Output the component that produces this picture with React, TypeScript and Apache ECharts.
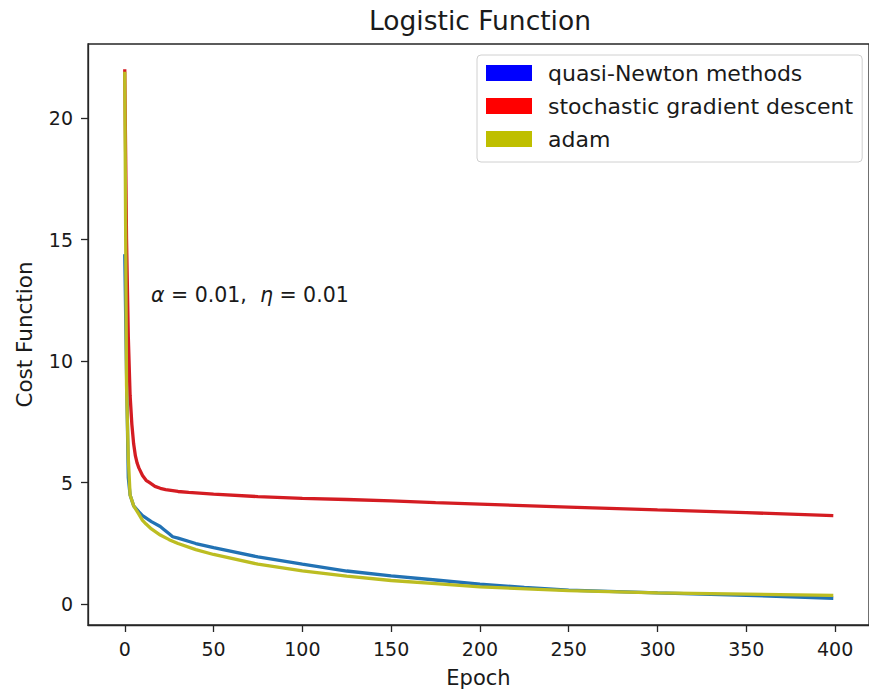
import React, { useEffect, useRef } from "react";
import * as echarts from "echarts";

// ---- data ----
const seriesNames = ["quasi-Newton methods", "stochastic gradient descent", "adam"];
const legendColors = ["#0000ff", "#ff0000", "#bfbf00"];
const lineColors = ["#2272b4", "#d41c22", "#bcbd22"];

const xTicks = [0, 50, 100, 150, 200, 250, 300, 350, 400];
const yTicks = [0, 5, 10, 15, 20];

const qnEpochs = [0, 1, 2, 3, 5, 8, 10, 15, 20, 22, 25, 27, 30, 40, 50, 75, 100, 125, 150, 175, 200, 225, 250, 300, 350, 399];
const qnValues = [14.4, 9.5, 5.2, 4.5, 4.05, 3.8, 3.65, 3.4, 3.2, 3.08, 2.9, 2.78, 2.72, 2.5, 2.33, 1.95, 1.65, 1.37, 1.17, 1.0, 0.83, 0.7, 0.58, 0.47, 0.37, 0.25];

const sgdEpochs = [0, 1, 2, 3, 4, 5, 6, 7, 8, 10, 12, 14, 17, 20, 23, 30, 36, 50, 75, 100, 125, 150, 175, 200, 250, 300, 350, 399];
const sgdValues = [22.0, 15.0, 11.0, 8.6, 7.4, 6.6, 6.1, 5.8, 5.6, 5.3, 5.1, 5.0, 4.85, 4.77, 4.72, 4.64, 4.6, 4.53, 4.43, 4.36, 4.31, 4.25, 4.18, 4.12, 4.0, 3.88, 3.77, 3.65];

const adamEpochs = [0, 1, 2, 3, 5, 8, 10, 12, 15, 20, 25, 30, 40, 50, 75, 100, 125, 150, 175, 200, 250, 300, 350, 399];
const adamValues = [21.9, 9.0, 6.0, 4.5, 4.05, 3.7, 3.45, 3.3, 3.1, 2.85, 2.66, 2.5, 2.25, 2.05, 1.65, 1.38, 1.16, 0.98, 0.85, 0.72, 0.56, 0.47, 0.42, 0.37];

const annotationText = "{i|α} = 0.01,  {i|η} = 0.01";
const titleText = "Logistic Function";
const xName = "Epoch";
const yName = "Cost Function";

const FONT = "DejaVu Sans";

function pairs(xs: number[], ys: number[]) {
  return xs.map((x, i) => [x, ys[i]]);
}

export default function App() {
  const ref = useRef<HTMLDivElement>(null);
  useEffect(() => {
    if (!ref.current) return;
    const chart = echarts.init(ref.current, undefined, { renderer: "svg" });
    const allData = [
      pairs(qnEpochs, qnValues),
      pairs(sgdEpochs, sgdValues),
      pairs(adamEpochs, adamValues),
    ];
    const option: any = {
      animation: false,
      backgroundColor: "#ffffff",
      textStyle: { fontFamily: FONT },
      grid: {
        left: 88,
        top: 44,
        width: 784,
        height: 581,
        show: true,
        borderColor: "#262626",
        borderWidth: 1.3,
        backgroundColor: "transparent",
      },
      xAxis: {
        type: "value",
        min: -20.7,
        max: 419.1,
        name: xName,
        nameLocation: "middle",
        nameGap: 42,
        nameTextStyle: { fontSize: 21, color: "#1a1a1a", fontFamily: FONT },
        axisLine: { show: true, onZero: false, lineStyle: { color: "#262626", width: 1.3 } },
        axisTick: { show: true, length: 7, customValues: xTicks, lineStyle: { color: "#262626", width: 1.3 } },
        axisLabel: { customValues: xTicks, fontSize: 19, color: "#1a1a1a", margin: 14, fontFamily: FONT },
        splitLine: { show: false },
      },
      yAxis: {
        type: "value",
        min: -0.85,
        max: 23.04,
        name: yName,
        nameLocation: "middle",
        nameGap: 53,
        nameTextStyle: { fontSize: 21.5, color: "#1a1a1a", fontFamily: FONT },
        axisLine: { show: true, onZero: false, lineStyle: { color: "#262626", width: 1.3 } },
        axisTick: { show: true, length: 7, customValues: yTicks, lineStyle: { color: "#262626", width: 1.3 } },
        axisLabel: { customValues: yTicks, fontSize: 19, color: "#1a1a1a", margin: 15, fontFamily: FONT },
        splitLine: { show: false },
      },
      legend: {
        orient: "vertical",
        left: 477,
        top: 55,
        icon: "rect",
        itemWidth: 46,
        itemHeight: 16,
        itemGap: 11,
        padding: [7, 9, 12, 9],
        backgroundColor: "#ffffff",
        borderColor: "#d0d0d0",
        borderWidth: 1,
        borderRadius: 4,
        selectedMode: false,
        textStyle: { fontSize: 22, color: "#1a1a1a", fontFamily: FONT, padding: [0, 0, 0, 11] },
        data: seriesNames.map((n, i) => ({
          name: n,
          itemStyle: { color: legendColors[i], borderWidth: 0 },
        })),
      },
      graphic: [
        {
          type: "text",
          x: 480,
          y: 20,
          style: {
            text: titleText,
            fontSize: 26.5,
            fontFamily: FONT,
            fill: "#1a1a1a",
            align: "center",
            verticalAlign: "middle",
          },
        },
        {
          type: "text",
          x: 151,
          y: 295,
          z: 10,
          style: {
            text: annotationText,
            fontSize: 20.5,
            fontFamily: FONT,
            fill: "#1a1a1a",
            align: "left",
            verticalAlign: "middle",
            rich: {
              i: { fontSize: 20.5, fontFamily: FONT, fontStyle: "italic", fill: "#1a1a1a" },
            },
          },
        },
      ],
      series: seriesNames.map((n, i) => ({
        name: n,
        type: "line",
        data: allData[i],
        showSymbol: false,
        symbol: "none",
        lineStyle: { color: lineColors[i], width: 3.3 },
        itemStyle: { color: lineColors[i] },
        z: [2, 3, 4][i],
      })),
    };
    chart.setOption(option);
    return () => chart.dispose();
  }, []);
  return (
    <div
      ref={ref}
      style={{ position: "fixed", left: 0, top: 0, width: 869, height: 696 }}
    />
  );
}
